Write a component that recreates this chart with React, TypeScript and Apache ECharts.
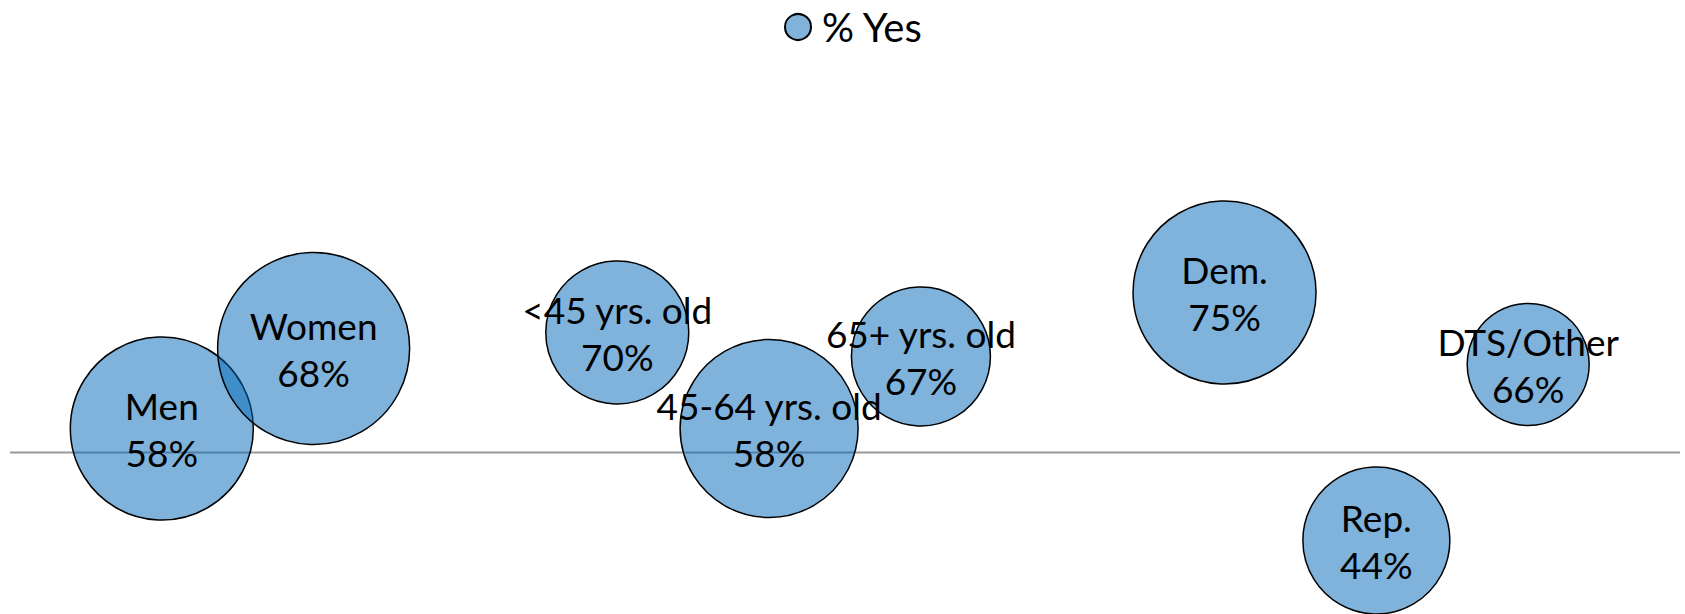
import React, { useEffect, useRef } from "react";
import * as echarts from "echarts";

const categories = ["Men", "Women", "<45 yrs. old", "45-64 yrs. old", "65+ yrs. old", "Dem.", "Rep.", "DTS/Other"];
const groupPosition = [1, 2, 4, 5, 6, 8, 9, 10];
const pctYes = [58, 68, 70, 58, 67, 75, 44, 66];
const bubbleSize = [183, 192, 143, 178, 139, 183, 147, 122];
const referenceValue = 55;
const seriesName = "% Yes";

const FONT = "Lato, 'Gill Sans', 'Open Sans', sans-serif";

export default function App() {
  const ref = useRef<HTMLDivElement>(null);
  useEffect(() => {
    if (!ref.current) return;
    const chart = echarts.init(ref.current, null, { renderer: "svg" });
    const data = categories.map((name, i) => ({
      name,
      value: [groupPosition[i], pctYes[i], bubbleSize[i]],
    }));
    chart.setOption({
      animation: false,
      backgroundColor: "#ffffff",
      textStyle: { fontFamily: FONT },
      legend: {
        data: [seriesName],
        top: 2,
        left: 779,
        icon: "circle",
        itemWidth: 26,
        itemHeight: 26,
        itemGap: 10,
        selectedMode: false,
        textStyle: { fontFamily: FONT, fontSize: 40, color: "#000", padding: [0, 0, 0, 6] },
      },
      grid: { left: 10, right: 5, top: 92.5, bottom: 41.5, containLabel: false },
      xAxis: {
        type: "value",
        min: 0,
        max: 11,
        show: false,
        splitLine: { show: false },
      },
      yAxis: {
        type: "value",
        min: 40,
        max: 100,
        show: false,
        splitLine: { show: false },
      },
      series: [
        {
          name: "ref",
          type: "line",
          data: [[0, referenceValue], [11, referenceValue]],
          symbol: "none",
          silent: true,
          z: 1,
          lineStyle: { color: "#999999", width: 1.8 },
        },
        {
          name: seriesName,
          type: "scatter",
          z: 2,
          data,
          symbolSize: (v: number[]) => v[2],
          itemStyle: {
            color: "rgba(0,104,184,0.5)",
            borderColor: "#000",
            borderWidth: 1.5,
            opacity: 1,
          },
          label: {
            show: true,
            position: "inside",
            fontFamily: FONT,
            fontSize: 37,
            lineHeight: 47,
            color: "#000",
            formatter: (p: any) => `${p.name}\n${p.value[1]}%`,
          },
          emphasis: { disabled: true },
        },
      ],
    });
    return () => chart.dispose();
  }, []);
  return (
    <div
      ref={ref}
      style={{ position: "absolute", left: 0, top: 0, width: 1685, height: 614 }}
    />
  );
}
